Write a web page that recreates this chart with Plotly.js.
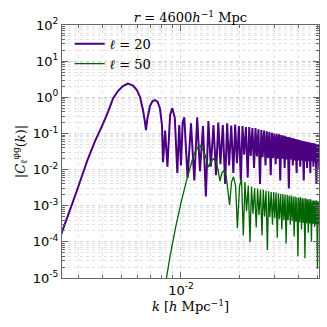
<!DOCTYPE html>
<html>
<head>
<meta charset="utf-8">
<script src="https://cdn.plot.ly/plotly-3.0.1.min.js"></script>
<style>
  html, body { margin: 0; padding: 0; background: #fff; }
  #chart { width: 327px; height: 327px; }
</style>
</head>
<body>
<div id="chart"></div>
<script>
// l = 20: rise, main peak and first few oscillations
const kL20Smooth = [0.0024, 0.00288, 0.00335, 0.00364, 0.00401, 0.00424, 0.00451, 0.00477, 0.00506, 0.00537,
  0.00569, 0.00596, 0.00618, 0.0064, 0.00655, 0.00663, 0.00675, 0.00695, 0.00716, 0.00736,
  0.00759, 0.00781, 0.008, 0.0081, 0.0083, 0.00853, 0.0088, 0.00903, 0.0093, 0.00958,
  0.0098, 0.0100, 0.0102];
const cL20Smooth = [1.2e-4, 1.86e-3, 0.0196, 0.0605, 0.19, 0.39, 0.94, 1.49, 2.05, 2.4,
  2.12, 1.59, 1.02, 0.445, 0.207, 0.124, 0.267, 0.574, 0.79, 0.84,
  0.76, 0.5, 0.17, 0.016, 0.12, 0.012, 0.32, 0.50, 0.27, 0.008,
  0.17, 0.013, 0.2];

// l = 20: dense oscillations, peaks and dips
const kL20Peaks = [0.0104, 0.01125, 0.0121, 0.01295, 0.0138, 0.01465, 0.0155, 0.01635, 0.0172, 0.01805,
  0.0189, 0.01975, 0.0206, 0.02145, 0.0223, 0.02315, 0.024, 0.02485, 0.0257, 0.02655,
  0.0274, 0.02825, 0.0291, 0.02995, 0.0308, 0.03165, 0.0325, 0.03335, 0.0342, 0.03505,
  0.0359, 0.03675, 0.0376, 0.03845, 0.0393, 0.04015, 0.041, 0.04185, 0.0427, 0.04355,
  0.0444, 0.04525, 0.0461, 0.04695, 0.0478, 0.04865, 0.0495, 0.05035, 0.0512];
const cL20Peaks = [0.28, 0.19, 0.28, 0.16, 0.22, 0.17, 0.2, 0.17, 0.19, 0.165,
  0.175, 0.16, 0.16, 0.15, 0.15, 0.14, 0.14, 0.13, 0.125, 0.12,
  0.115, 0.11, 0.105, 0.10, 0.098, 0.094, 0.09, 0.087, 0.084, 0.08,
  0.078, 0.075, 0.073, 0.07, 0.068, 0.066, 0.064, 0.062, 0.061, 0.059,
  0.058, 0.056, 0.055, 0.054, 0.053, 0.052, 0.051, 0.05, 0.049];
const kL20Dips = [0.0108, 0.0117, 0.0125, 0.0134, 0.0142, 0.0151, 0.0159, 0.0168, 0.0176, 0.0185,
  0.0193, 0.0202, 0.0210, 0.0219, 0.0227, 0.0236, 0.0244, 0.0253, 0.0261, 0.0270,
  0.0278, 0.0287, 0.0295, 0.0304, 0.0312, 0.0321, 0.0329, 0.0338, 0.0346, 0.0355,
  0.0363, 0.0372, 0.0380, 0.0389, 0.0397, 0.0406, 0.0414, 0.0423, 0.0431, 0.0440,
  0.0448, 0.0457, 0.0465, 0.0474, 0.0482, 0.0491, 0.0499, 0.0508];
const cL20Dips = [0.006, 0.005, 0.009, 0.0018, 0.012, 0.007, 0.014, 0.004, 0.013, 0.008,
  0.015, 0.005, 0.026, 0.006, 0.024, 0.011, 0.023, 0.004, 0.022, 0.013,
  0.021, 0.007, 0.021, 0.014, 0.02, 0.005, 0.02, 0.011, 0.019, 0.003,
  0.019, 0.013, 0.018, 0.008, 0.018, 0.012, 0.018, 0.005, 0.017, 0.011,
  0.017, 0.008, 0.017, 0.012, 0.016, 0.004, 0.016, 0.01];

// l = 50: rise, first peak and first oscillations
const kL50Smooth = [0.0082, 0.00879, 0.0094, 0.0100, 0.01069, 0.01155, 0.0119, 0.01225, 0.0125, 0.01295,
  0.0134, 0.01381, 0.0142, 0.01465, 0.0151, 0.0155, 0.01581, 0.0162, 0.01657, 0.0170,
  0.0177, 0.0181, 0.01853, 0.0190, 0.0194, 0.0199, 0.02036, 0.0208];
const cL50Smooth = [4e-6, 3.9e-5, 2.6e-4, 1.2e-3, 5.1e-3, 0.023, 0.033, 0.043, 0.046, 0.035,
  0.022, 0.0117, 0.016, 0.02, 0.017, 0.009, 0.0048, 0.0082, 0.0093, 0.0068,
  0.00105, 0.0045, 0.0063, 0.0035, 2.4e-4, 0.0035, 0.0055, 1.5e-4];

// l = 50: dense oscillations
const kL50Peaks = [0.0212, 0.02205, 0.0229, 0.02375, 0.0246, 0.02545, 0.0263, 0.02715, 0.028, 0.02885,
  0.0297, 0.03055, 0.0314, 0.03225, 0.0331, 0.03395, 0.0348, 0.03565, 0.0365, 0.03735,
  0.0382, 0.03905, 0.0399, 0.04075, 0.0416, 0.04245, 0.0433, 0.04415, 0.045, 0.04585,
  0.0467, 0.04755, 0.0484, 0.04925, 0.0501, 0.05095, 0.0518];
const cL50Peaks = [0.0045, 0.0036, 0.0034, 0.0031, 0.003, 0.0028, 0.0028, 0.0026, 0.0025, 0.0024,
  0.0024, 0.0023, 0.0022, 0.0021, 0.0021, 0.002, 0.002, 0.0019, 0.0019, 0.0018,
  0.0018, 0.0017, 0.0017, 0.0017, 0.0016, 0.0016, 0.0016, 0.0015, 0.0015, 0.0015,
  0.0014, 0.0014, 0.0014, 0.0014, 0.0013, 0.0013, 0.0013];
const kL50Dips = [0.0216, 0.0225, 0.0233, 0.0242, 0.0250, 0.0259, 0.0267, 0.0276, 0.0284, 0.0293,
  0.0301, 0.0310, 0.0318, 0.0327, 0.0335, 0.0344, 0.0352, 0.0361, 0.0369, 0.0378,
  0.0386, 0.0395, 0.0403, 0.0412, 0.0420, 0.0429, 0.0437, 0.0446, 0.0454, 0.0463,
  0.0471, 0.0480, 0.0488, 0.0497, 0.0505, 0.0514];
const cL50Dips = [7e-4, 1.0e-4, 6e-4, 2.5e-4, 5.5e-4, 1.5e-4, 5e-4, 6e-5, 4.8e-4, 3e-4,
  4.5e-4, 1.3e-4, 4.2e-4, 2.2e-4, 4e-4, 9e-5, 4e-4, 3e-4, 3.8e-4, 1.4e-4,
  3.6e-4, 4e-5, 3.5e-4, 2.2e-4, 3.4e-4, 3.5e-5, 3.3e-4, 1.8e-4, 3.2e-4, 1e-4,
  3.1e-4, 2.6e-4, 3e-4, 1.8e-5, 3e-4, 1.5e-4];

const yTickVals = [1e-5, 1e-4, 1e-3, 1e-2, 1e-1, 1, 10, 100];
const yTickText = ['10<sup>-5</sup>', '10<sup>-4</sup>', '10<sup>-3</sup>', '10<sup>-2</sup>',
  '10<sup>-1</sup>', '10<sup>0</sup>', '10<sup>1</sup>', '10<sup>2</sup>'];
const xTickVals = [0.01];
const xTickText = ['10<sup>-2</sup>'];

// join the pieces of one curve, ordered by k
function joinCurve(parts) {
  const pts = [];
  parts.forEach(([ks, cs]) => ks.forEach((k, i) => pts.push([k, cs[i]])));
  pts.sort((a, b) => a[0] - b[0]);
  return { x: pts.map(p => p[0]), y: pts.map(p => p[1]) };
}

const curve20 = joinCurve([[kL20Smooth, cL20Smooth], [kL20Peaks, cL20Peaks], [kL20Dips, cL20Dips]]);
const curve50 = joinCurve([[kL50Smooth, cL50Smooth], [kL50Peaks, cL50Peaks], [kL50Dips, cL50Dips]]);

// minor ticks / grid (2..9 per decade)
const xMinor = [];
[0.001, 0.01].forEach(d => { for (let m = 2; m <= 9; m++) xMinor.push(m * d); });
const yMinor = [];
for (let e = -5; e < 2; e++) { for (let m = 2; m <= 9; m++) yMinor.push(m * Math.pow(10, e)); }

const trace20 = {
  x: curve20.x, y: curve20.y, type: 'scatter', mode: 'lines',
  name: '<i>ℓ</i> = 20',
  line: { color: '#4b0082', width: 2, simplify: false }
};
const trace50 = {
  x: curve50.x, y: curve50.y, type: 'scatter', mode: 'lines',
  name: '<i>ℓ</i> = 50',
  line: { color: '#006400', width: 1.3, simplify: false }
};

const serif = 'DejaVu Serif';
const axisCommon = {
  type: 'log', showline: true, linecolor: '#666', linewidth: 1, mirror: 'ticks',
  ticks: 'inside', ticklen: 6, tickcolor: '#666',
  showgrid: true, gridcolor: '#d2d2d2', griddash: 'dot', gridwidth: 1,
  tickfont: { family: 'DejaVu Sans', size: 13, color: '#000' },
  tickmode: 'array'
};

const layout = {
  width: 327, height: 327,
  margin: { l: 62, r: 8, t: 25, b: 49 },
  paper_bgcolor: '#fff', plot_bgcolor: '#fff',
  title: {
    text: '<i>r</i> = 4600<i>h</i><sup>−1</sup> Mpc',
    font: { family: serif, size: 13, color: '#000' },
    xref: 'paper', x: 0.5, yref: 'paper', y: 1, yanchor: 'bottom', pad: { b: 3 }
  },
  xaxis: Object.assign({}, axisCommon, {
    range: [Math.log10(0.002472), Math.log10(0.0506)],
    tickvals: xTickVals, ticktext: xTickText,
    minor: { tickvals: xMinor, ticks: 'inside', ticklen: 3, tickcolor: '#666',
      showgrid: true, gridcolor: '#e2e2e2', griddash: 'dot' },
    title: { text: '<i>k</i> [<i>h</i> Mpc<sup>−1</sup>]', font: { family: serif, size: 13, color: '#000' }, standoff: 4 }
  }),
  yaxis: Object.assign({}, axisCommon, {
    range: [-5, 2],
    tickvals: yTickVals, ticktext: yTickText,
    minor: { tickvals: yMinor, ticks: 'inside', ticklen: 3, tickcolor: '#666',
      showgrid: true, gridcolor: '#e2e2e2', griddash: 'dot' },
    title: { text: '|<i>C</i><sub>ℓ</sub><sup>φg</sup>(<i>k</i>)|', font: { family: serif, size: 13, color: '#000' }, standoff: 4 }
  }),
  showlegend: true,
  legend: {
    x: 0.03, y: 0.985, xanchor: 'left', yanchor: 'top',
    bgcolor: 'rgba(0,0,0,0)', borderwidth: 0,
    font: { family: serif, size: 13, color: '#000' }
  }
};

Plotly.newPlot('chart', [trace20, trace50], layout, { displayModeBar: false, staticPlot: true });
</script>
</body>
</html>
